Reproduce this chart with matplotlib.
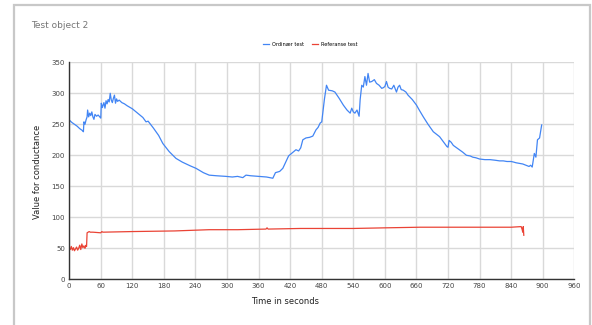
import matplotlib.pyplot as plt
from matplotlib.patches import Rectangle

# Ordinær test (blue)
ord_t = [0, 5, 10, 15, 20, 25, 27, 28, 30, 32, 34, 35, 37, 39, 41, 43, 45, 47, 49, 52,
         55, 58, 60, 61, 63, 66, 68, 70, 72, 74, 76, 78, 80, 82, 84, 86, 88, 90, 92, 95,
         100, 105, 110, 114, 120, 130, 140, 146, 150, 160, 170, 178, 190, 203, 215, 230,
         241, 255, 266, 280, 298, 310, 320, 330, 336, 345, 361, 375, 387, 392, 400, 406,
         412, 417, 424, 431, 436, 440, 444, 450, 457, 463, 466, 469, 473, 477, 480, 482,
         485, 489, 493, 500, 505, 513, 521, 528, 534, 537, 540, 543, 547, 551, 553, 556,
         559, 562, 565, 568, 571, 575, 580, 584, 589, 594, 597, 600, 603, 606, 609, 613,
         617, 622, 625, 628, 631, 635, 640, 644, 652, 660, 666, 673, 682, 692, 698, 704,
         711, 718, 720, 722, 726, 730, 740, 748, 755, 762, 767, 773, 780, 790, 800, 810,
         818, 825, 832, 840, 845, 849, 855, 862, 868, 874, 877, 880, 884, 887, 890, 894, 898]
ord_v = [257, 253, 250, 247, 243, 240, 238, 254, 250, 257, 262, 273, 262, 268, 264, 270, 262, 258, 266, 263,
         265, 262, 260, 284, 277, 285, 276, 288, 283, 290, 286, 300, 289, 285, 292, 297, 284, 291, 287, 289,
         285, 283, 280, 278, 275, 268, 261, 254, 255, 244, 232, 219, 206, 195, 189, 183,
         179, 172, 168, 167, 166, 165, 166, 164, 168, 167, 166, 165, 163, 172, 174, 179,
         190, 199, 204, 209, 207, 212, 225, 228, 229, 231, 236, 241, 245, 252, 254, 268,
         290, 313, 305, 304, 302, 292, 281, 273, 268, 276, 270, 268, 273, 263, 290, 313,
         310, 327, 313, 332, 318, 319, 322, 316, 313, 308, 309, 311, 319, 310, 308, 307,
         313, 302, 310, 313, 306, 305, 302, 297, 290, 281, 272, 262, 250, 238, 234, 230,
         222, 214, 213, 224, 221, 216, 210, 205, 200, 199, 197, 196, 194, 193, 193, 192,
         191, 191, 190, 190, 189, 188, 187, 186, 184, 182, 184, 181, 203, 197, 225, 228, 249]

# Referanse test (red)
ref_t = [0, 2, 4, 6, 8, 10, 12, 14, 16, 18, 20, 22, 24, 26, 28, 30, 32, 33, 34, 36,
         38, 40, 45, 60, 62, 64, 120, 200, 266, 320, 374, 376, 378, 440, 480, 540, 600,
         667, 760, 840, 859, 861, 862, 863, 864]
ref_v = [50, 48, 53, 47, 51, 46, 49, 52, 47, 50, 55, 48, 57, 51, 54, 50, 55, 53, 75, 76,
         77, 76, 76, 75, 77, 76, 77, 78, 80, 80, 81, 83, 81, 82, 82, 82, 83,
         84, 84, 84, 85, 80, 76, 85, 71]

x_ticks = list(range(0, 961, 60))
y_ticks = list(range(0, 351, 50))

fig = plt.figure(figsize=(5.92, 3.25), dpi=100)
fig.patches.append(Rectangle((14, -5), 576, 325, transform=None, fill=False,
                             edgecolor='#c8c8c8', linewidth=1.6))

ax = fig.add_axes([69.2 / 592, 1 - 279.3 / 325, (574.3 - 69.2) / 592, (279.3 - 62.3) / 325])
ax.plot(ord_t, ord_v, color='#4285f4', linewidth=0.9, label='Ordinær test')
ax.plot(ref_t, ref_v, color='#ea4335', linewidth=0.9, label='Referanse test')

ax.set_xlim(0, 960)
ax.set_ylim(0, 350)
ax.set_xticks(x_ticks)
ax.set_yticks(y_ticks)
ax.tick_params(labelsize=5, length=0, pad=3, colors='#444444')
ax.grid(True, color='#d9d9d9', linewidth=1.0)
ax.set_axisbelow(True)
for s in ['top', 'right']:
    ax.spines[s].set_visible(False)
for s in ['left', 'bottom']:
    ax.spines[s].set_color('#333333')
    ax.spines[s].set_linewidth(1.0)

fig.text(31 / 592, 1 - 26 / 325, 'Test object 2', fontsize=6.5, color='#757575', va='center')
fig.text(285 / 592, 1 - 302 / 325, 'Time in seconds', fontsize=6, color='#222222',
         ha='center', va='center')
fig.text(37.7 / 592, 1 - 172 / 325, 'Value for conductance', fontsize=6, color='#222222',
         ha='center', va='center', rotation=90)

fig.legend(loc='center', bbox_to_anchor=(310 / 592, 1 - 44.5 / 325), ncol=2, fontsize=3.6,
           frameon=False, handlelength=1.2, handletextpad=0.6, columnspacing=1.6)

fig.savefig('out.png', dpi=100)
